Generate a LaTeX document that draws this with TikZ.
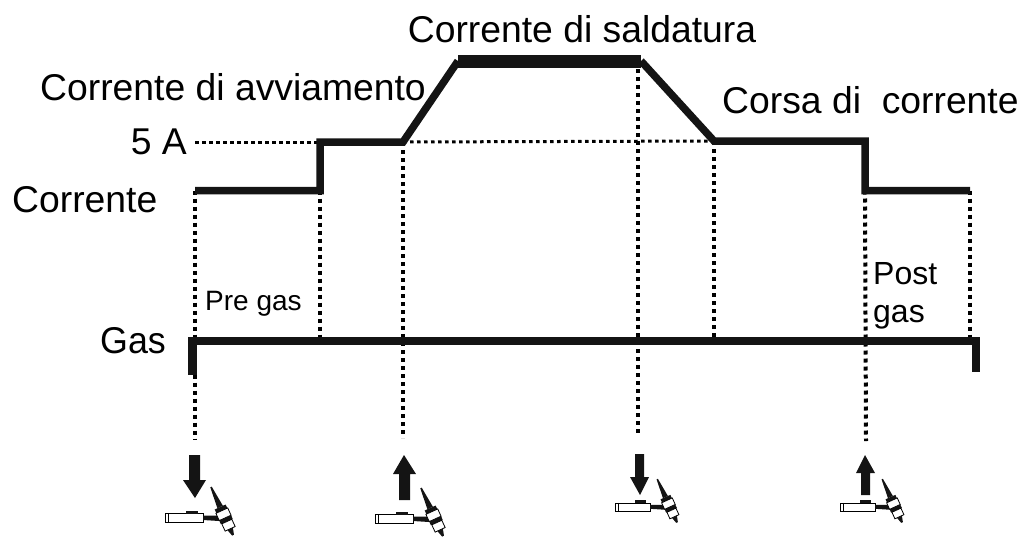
\documentclass[tikz,border=0pt]{standalone}
\usepackage{fontspec}
\setmainfont{Liberation Sans}
\begin{document}
\begin{tikzpicture}[x=1pt,y=-1pt]
\tikzset{etiquette/.style={inner sep=0pt, font=\fontsize{37.3}{40}\selectfont},
  petit/.style={inner sep=0pt, font=\fontsize{28}{30}\selectfont},
  grand/.style={inner sep=0pt, font=\fontsize{32}{34}\selectfont},
  courant/.style={line width=7.5pt, line join=miter, color=black!92},
  pointille/.style={line width=4pt, dash pattern=on 4pt off 4pt},
  pointillefin/.style={line width=3pt, dash pattern=on 3.5pt off 3.5pt},
  fleche/.style={fill=black!92, draw=none},
  torche/.pic={
    \draw[line width=.8pt, fill=white] (-38,-4.5) rectangle (0,4.5);
    \draw[line width=.8pt] (-35,-4.5) -- (-35,4.5);
    \fill[black!92] (-17,-7.5) rectangle (-5,-4.5);
    \fill[black!92] (0,-2.5) -- (16,-2.5) -- (16,3) -- (0,2) -- cycle;
    \begin{scope}[shift={(8,-31)},rotate=24.6]
      \fill[black!92] (-.8,0) -- (.8,0) -- (3,22) -- (-3,22) -- cycle;
      \fill[black!92] (-6,22) rectangle (6,26);
      \draw[line width=.8pt, fill=white] (-6.5,26) rectangle (6.5,34);
      \fill[black!92] (-6.5,34) rectangle (6.5,38);
      \draw[line width=.8pt, fill=white] (-5.5,38) rectangle (5.5,46);
      \fill[black!92] (-3,46) -- (3,46) -- (1,53) -- (-1,53) -- cycle;
    \end{scope}
  }}
\useasboundingbox (0,0) rectangle (1021,536);
% courbe du courant
\coordinate (C0) at (195,190.5);
\coordinate (C1) at (320,190.5);
\coordinate (C2) at (320,142);
\coordinate (C3) at (403,142);
\coordinate (C4) at (458,61);
\coordinate (C5) at (641,61);
\coordinate (C6) at (714,141);
\coordinate (C7) at (865,141);
\coordinate (C8) at (865,190.5);
\coordinate (C9) at (970,190.5);
% ligne du gaz
\coordinate (G0) at (188,341);
\coordinate (G1) at (980,341);
\coordinate (GA) at (192.5,375);
\coordinate (GB) at (976,372);
\coordinate (GC) at (192.5,337.5);
\coordinate (GD) at (976,337.5);
\coordinate (P1) at (320,341);
\coordinate (P4) at (714,341);
\coordinate (P6) at (970,341);
\coordinate (F0) at (195,439);
\coordinate (F2) at (403,438);
\coordinate (F3) at (638,436);
\coordinate (F5) at (866,441);
\coordinate (A5) at (195,142);
\coordinate (H3) at (638,61);
% textes
\node[etiquette, anchor=center] (saldatura) at (582,29) {Corrente di saldatura};
\node[etiquette, anchor=west] (avviamento) at (40,87) {Corrente di avviamento};
\node[etiquette, anchor=west] (corsa) at (722,100) {Corsa di\ \ corrente};
\node[etiquette, anchor=east] (cinque) at (187,142) {5 A};
\node[etiquette, anchor=west] (corrente) at (12,200) {Corrente};
\node[etiquette, anchor=west, xscale=.96] (gas) at (100,341) {Gas};
\node[petit, anchor=west] (pre) at (205,304) {Pre gas};
\node[grand, anchor=west] (post) at (873,274) {Post};
\node[grand, anchor=west] (postgas) at (873,317) {gas};
% pointilles
\draw[pointillefin] (A5) -- (C2);
\draw[pointillefin] (C3) -- (C6);
\draw[pointille] (C0) -- (F0);
\draw[pointille] (C1) -- (P1);
\draw[pointille] (C3) -- (F2);
\draw[pointille] (H3) -- (F3);
\draw[pointille] (C6) -- (P4);
\draw[pointille] (C8) -- (F5);
\draw[pointille] (C9) -- (P6);
% courbes
\draw[courant] (C0) -- (C1) -- (C2) -- (C3) -- (C4);
\draw[courant] (C5) -- (C6) -- (C7) -- (C8) -- (C9);
\draw[line width=13pt, black!92] (C4) -- (C5);
\draw[courant] (G0) -- (G1);
\draw[line width=8.5pt, black!92] (GC) -- (GA);
\draw[line width=8pt, black!92] (GD) -- (GB);
% fleches
\fill[fleche] (189,455) -- (200,455) -- (200,480) -- (206,480) -- (195,498) -- (183,480) -- (189,480) -- cycle;
\fill[fleche] (399,500) -- (410,500) -- (410,474) -- (416,474) -- (404,455) -- (393,474) -- (399,474) -- cycle;
\fill[fleche] (635,454) -- (644,454) -- (644,477) -- (649,477) -- (640,495) -- (630,477) -- (635,477) -- cycle;
\fill[fleche] (861,495) -- (870,495) -- (870,473) -- (875,473) -- (865,455) -- (856,473) -- (861,473) -- cycle;
% torches
\pic (T1) at (203,518) {torche};
\pic (T2) at (413,519) {torche};
\pic[scale=.9] (T3) at (650,507) {torche};
\pic[scale=.9] (T4) at (875,507) {torche};
\end{tikzpicture}
\end{document}
